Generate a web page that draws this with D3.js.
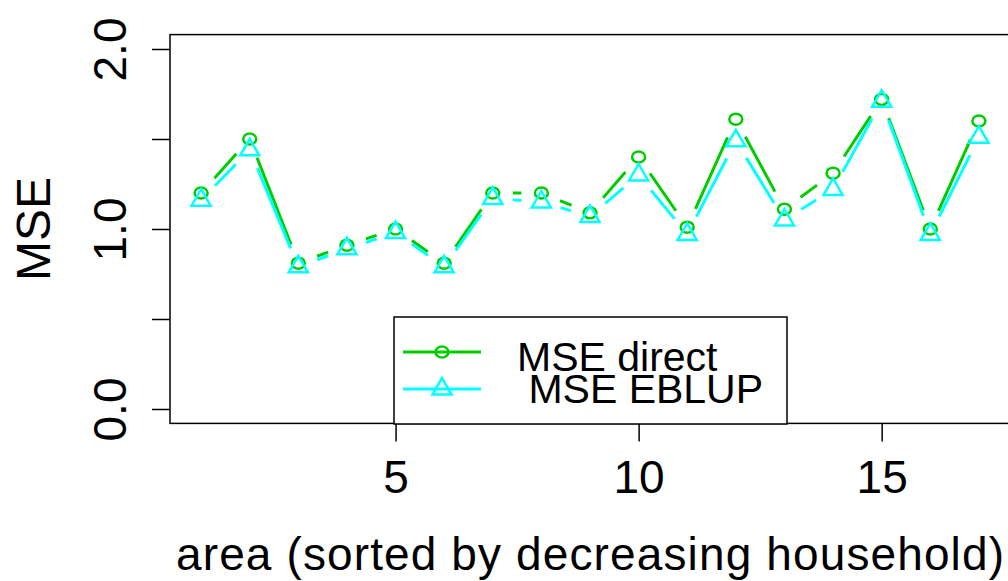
<!DOCTYPE html>
<html>
<head>
<meta charset="utf-8">
<script src="https://cdn.jsdelivr.net/npm/d3@7"></script>
<style>
  html, body { margin: 0; padding: 0; background: #fff; }
  text { font-family: "Liberation Sans", Arial, sans-serif; fill: #000; }
</style>
</head>
<body>
<svg id="chart" width="1008" height="581"></svg>
<script>
// ---- data ----
const areas = [1,2,3,4,5,6,7,8,9,10,11,12,13,14,15,16,17];
const mseDirect = [1.2, 1.5, 0.81, 0.91, 1.0, 0.81, 1.2, 1.2, 1.09, 1.4, 1.01, 1.61, 1.11, 1.31, 1.72, 1.0, 1.6];
const mseEblup  = [1.16, 1.44, 0.79, 0.89, 0.98, 0.79, 1.17, 1.15, 1.07, 1.3, 0.97, 1.49, 1.05, 1.22, 1.71, 0.97, 1.51];
const xTicks = [5, 10, 15];
const yTicks = [0, 0.5, 1, 1.5, 2];
const yTickLabels = ["0.0", "", "1.0", "", "2.0"];
const legendLabels = ["MSE direct", " MSE EBLUP"];
const xLabel = "area (sorted by decreasing household)";
const yLabel = "MSE";

// ---- layout ----
const svg = d3.select("#chart");
svg.append("rect").attr("width", 1008).attr("height", 581).attr("fill", "#fff");

const x = d3.scaleLinear().domain([0.36, 17.64]).range([170, 1010]);
const y = d3.scaleLinear().domain([0, 2]).range([409, 49]);
const yLo = -0.08, yHi = 2.08;

const GREEN = "#00CD00", CYAN = "#00FFFF";

// plot box
svg.append("rect")
  .attr("x", x(0.36)).attr("y", y(yHi))
  .attr("width", x(17.64) - x(0.36)).attr("height", y(yLo) - y(yHi))
  .attr("fill", "none").attr("stroke", "#000").attr("stroke-width", 1.5);

// y axis
const yAxis = d3.axisLeft(y).tickValues(yTicks).tickSize(18)
  .tickFormat((d, i) => yTickLabels[i]);
const gy = svg.append("g").attr("transform", `translate(${x(0.36)},0)`).call(yAxis);
gy.select(".domain").remove();
gy.selectAll(".tick line").attr("stroke", "#000").attr("stroke-width", 1.5);
gy.selectAll(".tick text").remove();
gy.selectAll(".tick").append("text")
  .attr("transform", "translate(-44,0) rotate(-90)")
  .attr("text-anchor", "middle")
  .style("font-size", "46px")
  .text((d, i) => yTickLabels[i]);

// x axis
const xAxis = d3.axisBottom(x).tickValues(xTicks).tickSize(18).tickFormat(d3.format("d"));
const gx = svg.append("g").attr("transform", `translate(0,${y(yLo)})`).call(xAxis);
gx.select(".domain").remove();
gx.selectAll(".tick line").attr("stroke", "#000").attr("stroke-width", 1.5);
gx.selectAll(".tick text").remove();
gx.selectAll(".tick").append("text")
  .attr("y", 493 - y(yLo))
  .attr("text-anchor", "middle")
  .style("font-size", "46px")
  .text(d => d);

// axis titles
svg.append("text")
  .attr("x", 176).attr("y", 570)
  .attr("textLength", 828).attr("lengthAdjust", "spacing")
  .style("font-size", "46px")
  .text(xLabel);
svg.append("text")
  .attr("transform", `translate(50,${(y(yLo) + y(yHi)) / 2}) rotate(-90)`)
  .attr("text-anchor", "middle")
  .style("font-size", "48px")
  .text(yLabel);

// ---- series (type = "b": points joined by gapped segments) ----
const GAP = 20;
function drawSeries(vals, color, shape) {
  const pts = areas.map((a, i) => [x(a), y(vals[i])]);
  const segs = [];
  for (let i = 0; i < pts.length - 1; i++) {
    const [x0, y0] = pts[i], [x1, y1] = pts[i + 1];
    const dx = x1 - x0, dy = y1 - y0, L = Math.hypot(dx, dy);
    if (L > 2 * GAP) {
      const ux = dx / L, uy = dy / L;
      segs.push([x0 + ux * GAP, y0 + uy * GAP, x1 - ux * GAP, y1 - uy * GAP]);
    }
  }
  const g = svg.append("g");
  g.selectAll("line").data(segs).join("line")
    .attr("x1", d => d[0]).attr("y1", d => d[1])
    .attr("x2", d => d[2]).attr("y2", d => d[3])
    .attr("stroke", color).attr("stroke-width", 3);
  drawMarkers(g, pts, color, shape);
}
function drawMarkers(g, pts, color, shape) {
  if (shape === "circle") {
    g.selectAll("ellipse").data(pts).join("ellipse")
      .attr("cx", d => d[0]).attr("cy", d => d[1])
      .attr("rx", 6.5).attr("ry", 5.5)
      .attr("fill", "none").attr("stroke", color).attr("stroke-width", 2.5);
  } else {
    const r = 11;
    g.selectAll("path.tri").data(pts).join("path").attr("class", "tri")
      .attr("d", d => `M${d[0]},${d[1] - r} L${d[0] + r * 0.866},${d[1] + r / 2} L${d[0] - r * 0.866},${d[1] + r / 2} Z`)
      .attr("fill", "none").attr("stroke", color).attr("stroke-width", 2.5);
  }
}
drawSeries(mseDirect, GREEN, "circle");
drawSeries(mseEblup, CYAN, "triangle");

// ---- legend ----
const lg = svg.append("g");
lg.append("rect").attr("x", 394).attr("y", 317).attr("width", 393).attr("height", 107)
  .attr("fill", "#fff").attr("stroke", "#000").attr("stroke-width", 1.5);
const legendRows = [
  { label: legendLabels[0], color: GREEN, shape: "circle", ly: 352, ty: 371 },
  { label: legendLabels[1], color: CYAN, shape: "triangle", ly: 389, ty: 403 }
];
legendRows.forEach(row => {
  lg.append("line").attr("x1", 403).attr("x2", 481).attr("y1", row.ly).attr("y2", row.ly)
    .attr("stroke", row.color).attr("stroke-width", 3);
  const mg = lg.append("g");
  drawMarkers(mg, [[442, row.ly]], row.color, row.shape);
  lg.append("text").attr("x", 517).attr("y", row.ty)
    .style("font-size", "41px").style("white-space", "pre")
    .attr("xml:space", "preserve")
    .text(row.label);
});
</script>
</body>
</html>
